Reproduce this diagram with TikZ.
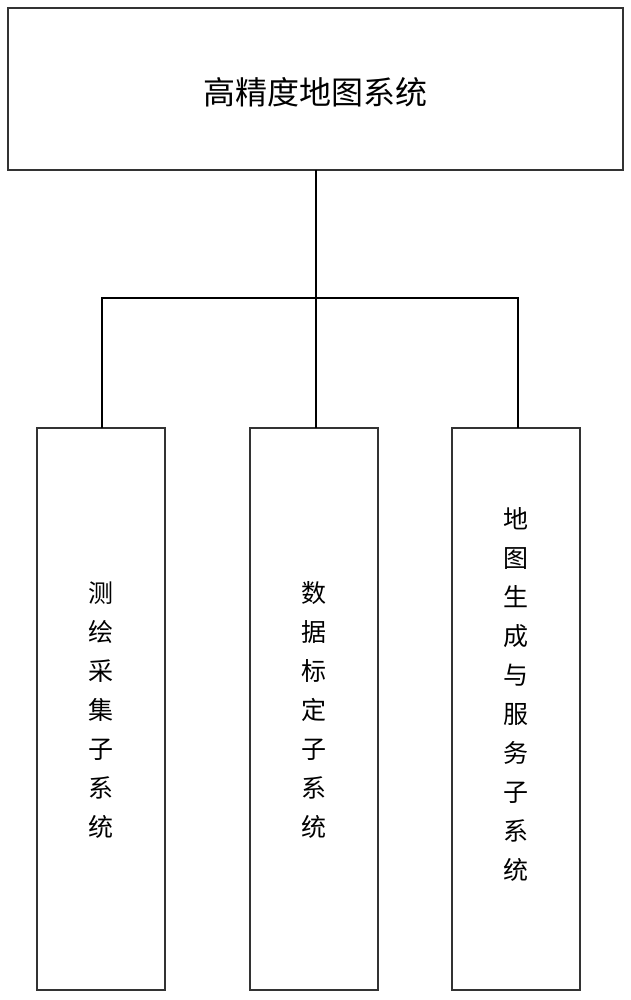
\documentclass[tikz,border=0pt]{standalone}
\usepackage{fontspec}
\newfontfamily\cjk{Noto Sans CJK SC}
\begin{document}
\begin{tikzpicture}[x=1pt,y=-1pt,
  box/.style={draw=black!80,line width=1.2pt,inner sep=0pt},
  conn/.style={draw=black,line width=2pt},
  vt/.style={font=\cjk\fontsize{25}{39}\selectfont,align=center}]
\useasboundingbox (0,0) rectangle (631,1000);
\draw[box] (8,8) rectangle (623,170);
\node (top) at (315.5,89) {};
\node[font=\cjk\fontsize{32}{38}\selectfont] (title) at (315.5,92) {高精度地图系统};
\draw[box] (37,428) rectangle (165,990);
\draw[box] (250,428) rectangle (378,990);
\draw[box] (452,428) rectangle (580,990);
\node[vt] (a) at (101,710) {测\\绘\\采\\集\\子\\系\\统};
\node[vt] (b) at (314,710) {数\\据\\标\\定\\子\\系\\统};
\node[vt] (c) at (516,694) {地\\图\\生\\成\\与\\服\\务\\子\\系\\统};
\coordinate (s0) at (316,170);
\coordinate (s1) at (316,298);
\coordinate (l) at (102,298);
\coordinate (r) at (518,298);
\draw[conn] (s0) -- (s1);
\draw[conn] (102,428) -- (l) -- (r) -- (518,428);
\draw[conn] (s1) -- (316,428);
\end{tikzpicture}
\end{document}
